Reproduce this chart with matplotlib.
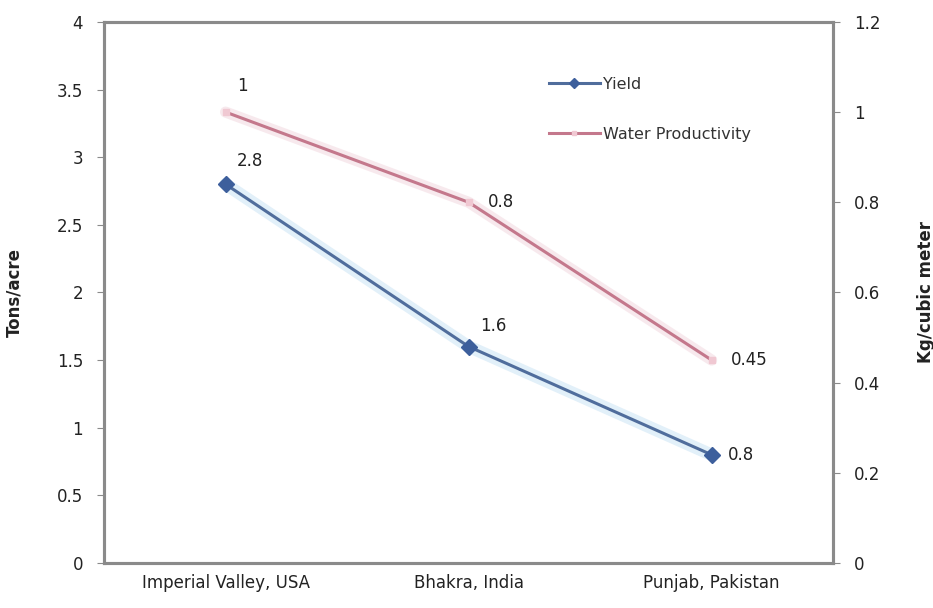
import matplotlib
matplotlib.use("Agg")
import matplotlib.pyplot as plt

# Data
regions = ["Imperial Valley, USA", "Bhakra, India", "Punjab, Pakistan"]
yield_tons = [2.8, 1.6, 0.8]            # Tons/acre (left axis)
water_prod = [1.0, 0.8, 0.45]           # Kg/cubic meter (right axis)
yield_labels = ["2.8", "1.6", "0.8"]
water_labels = ["1", "0.8", "0.45"]

plt.rcParams["font.family"] = ["DejaVu Sans"]

fig = plt.figure(figsize=(9.33, 6.08), dpi=100)
ax = fig.add_axes([0.1115, 0.074, 0.7815, 0.89])
ax2 = ax.twinx()

x = list(range(len(regions)))
yield_color = "#506d9c"
water_color = "#c4788c"
spine_color = "#8a8a8a"
text_color = "#222222"
fs = 12

# Soft halo behind the lines
ax.plot(x, yield_tons, color="#cfe6f5", lw=9, alpha=0.6, solid_capstyle="round", zorder=2)
ln1, = ax.plot(x, yield_tons, color=yield_color, lw=2.2, marker="D", ms=8,
               markerfacecolor="#3d5f9c", markeredgecolor="#3d5f9c", label="Yield", zorder=3)
ax2.plot(x, water_prod, color="#f3dbe2", lw=8, alpha=0.6, solid_capstyle="round", zorder=2)
ln2, = ax2.plot(x, water_prod, color=water_color, lw=2.2, marker="s", ms=4,
                markerfacecolor="#f0c8d2", markeredgecolor="#f0c8d2",
                label="Water Productivity", zorder=3)

ax.set_xlim(-0.5, 2.5)
ax.set_ylim(0, 4)
ax2.set_ylim(0, 1.2)

ax.set_xticks(x)
ax.set_xticklabels(regions, fontsize=fs, color=text_color)
ax.set_yticks([0, 0.5, 1, 1.5, 2, 2.5, 3, 3.5, 4])
ax.set_yticklabels(["0", "0.5", "1", "1.5", "2", "2.5", "3", "3.5", "4"],
                   fontsize=fs, color=text_color)
ax2.set_yticks([0, 0.2, 0.4, 0.6, 0.8, 1.0, 1.2])
ax2.set_yticklabels(["0", "0.2", "0.4", "0.6", "0.8", "1", "1.2"],
                    fontsize=fs, color=text_color)

ax.tick_params(axis="x", length=0, pad=8)
ax.tick_params(axis="y", length=5, color=spine_color, pad=10)
ax2.tick_params(axis="y", length=5, color=spine_color, pad=10)

for a in (ax, ax2):
    for s in a.spines.values():
        s.set_color(spine_color)
        s.set_linewidth(2.2)

ax.set_ylabel("Tons/acre", fontsize=fs, fontweight="bold", color=text_color, labelpad=24)
ax2.set_ylabel("Kg/cubic meter", fontsize=fs, fontweight="bold", color=text_color,
               labelpad=26)

# Value labels
y_offsets = [(8, 10), (8, 8), (12, 0)]
for i, (v, t) in enumerate(zip(yield_tons, yield_labels)):
    dx, dy = y_offsets[i]
    ax.annotate(t, (i, v), xytext=(dx, dy), textcoords="offset points",
                fontsize=fs, color=text_color, va="bottom" if dy else "center")
w_offsets = [(8, 12), (14, 0), (14, 0)]
for i, (v, t) in enumerate(zip(water_prod, water_labels)):
    dx, dy = w_offsets[i]
    ax2.annotate(t, (i, v), xytext=(dx, dy), textcoords="offset points",
                 fontsize=fs, color=text_color, va="bottom" if dy else "center")

ax.legend(handles=[ln1, ln2], loc="upper left", bbox_to_anchor=(0.59, 0.925),
          frameon=False, fontsize=11.5, handlelength=3.2, handletextpad=0.2,
          labelspacing=2.2, labelcolor="#333333", markerscale=0.6)

fig.savefig("out.png", dpi=100)
